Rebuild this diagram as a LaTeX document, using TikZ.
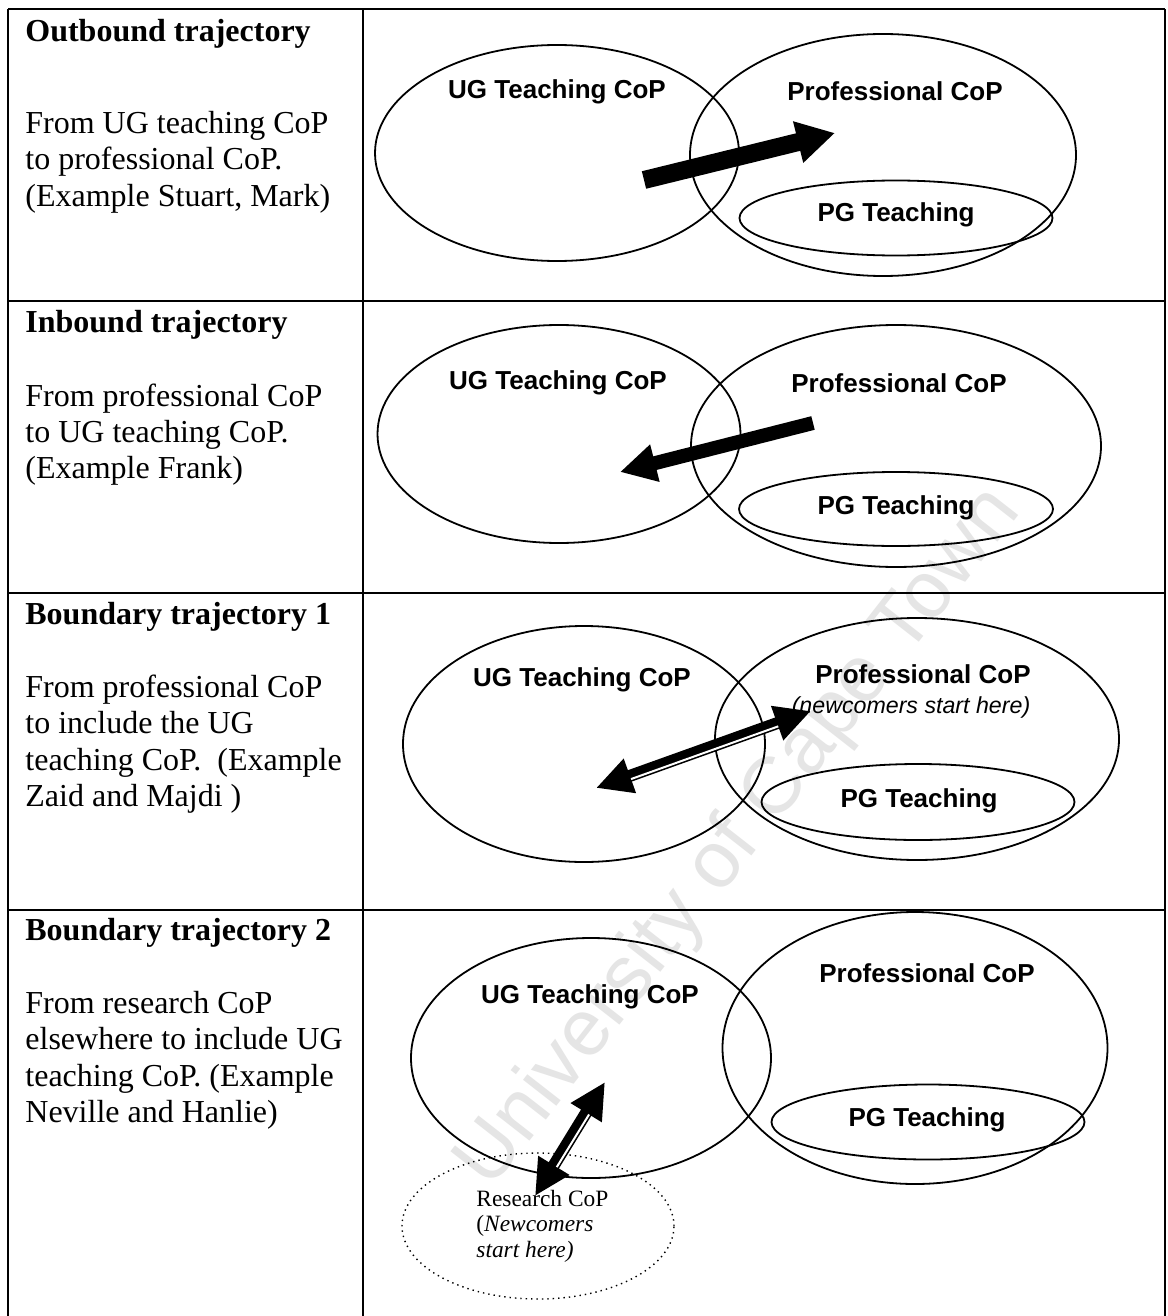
\documentclass[tikz,border=0pt]{standalone}
\usepackage{fontspec}
\setmainfont{Liberation Serif}
\setsansfont{Liberation Sans}
\usetikzlibrary{arrows.meta,calc,shapes.geometric}

\tikzset{
  set/.style={ellipse, draw, line width=0.9pt, inner sep=0pt},
  researchset/.style={ellipse, draw, dotted, line width=0.7pt, inner sep=0pt},
  lbl/.style={anchor=base, inner sep=0pt, font=\sffamily\bfseries\fontsize{13}{15}\selectfont},
  note/.style={anchor=base, inner sep=0pt, font=\sffamily\itshape\fontsize{11.6}{14}\selectfont},
  rowhead/.style={anchor=base west, inner sep=0pt, font=\bfseries\fontsize{16}{18}\selectfont},
  rowbody/.style={anchor=base west, inner sep=0pt, font=\fontsize{16}{18}\selectfont},
  smalltext/.style={anchor=base west, inner sep=0pt, font=\fontsize{11.7}{13}\selectfont},
  grid/.style={line width=0.9pt},
  bigarrow/.style={line width=9pt, -{Triangle[length=19pt,width=20pt]}},
  midarrow/.style={line width=7pt, -{Triangle[length=18pt,width=18pt]}},
  twoway/.style={line width=6pt, {Triangle[length=18pt,width=17pt]}-{Triangle[length=18pt,width=17pt]}},
  stripe/.style={white, line width=1pt, shorten <=18pt, shorten >=18pt},
}

\begin{document}
\begin{tikzpicture}[x=0.5pt, y=-0.5pt]
\useasboundingbox (0,0) rectangle (1167,1316);
\fill[white] (0,0) rectangle (1167,1316);

% faint watermark behind the table
\node[rotate=52, text=black!10, inner sep=0pt,
      font=\sffamily\fontsize{40}{40}\selectfont] (wm) at (740,838) {University of Cape Town};

% table rules
\draw[grid] (8,9) -- (1165,9);
\draw[grid] (8,301) -- (1165,301);
\draw[grid] (8,593) -- (1165,593);
\draw[grid] (8,910) -- (1165,910);
\draw[grid] (8,9) -- (8,1316);
\draw[grid] (363,9) -- (363,1316);
\draw[grid] (1165,9) -- (1165,1316);

% ---- left column texts
\node[rowhead] (r1h) at (25,42) {Outbound trajectory};
\node[rowbody] (r1a) at (25,134) {From UG teaching CoP};
\node[rowbody] (r1b) at (25,170) {to professional CoP.};
\node[rowbody] (r1c) at (25,206) {(Example Stuart, Mark)};

\node[rowhead] (r2h) at (25,332) {Inbound trajectory};
\node[rowbody] (r2a) at (25,406) {From professional CoP};
\node[rowbody] (r2b) at (25,442) {to UG teaching CoP.};
\node[rowbody] (r2c) at (25,478) {(Example Frank)};

\node[rowhead] (r3h) at (25,624) {Boundary trajectory 1};
\node[rowbody] (r3a) at (25,697) {From professional CoP};
\node[rowbody] (r3b) at (25,733) {to include the UG};
\node[rowbody] (r3c) at (25,770) {teaching CoP.\ \ (Example};
\node[rowbody] (r3d) at (25,806) {Zaid and Majdi )};

\node[rowhead] (r4h) at (25,940) {Boundary trajectory 2};
\node[rowbody] (r4a) at (25,1013) {From research CoP};
\node[rowbody] (r4b) at (25,1049) {elsewhere to include UG};
\node[rowbody] (r4c) at (25,1086) {teaching CoP. (Example};
\node[rowbody] (r4d) at (25,1122) {Neville and Hanlie)};

% ---- row 1: outbound
\node[set, minimum width=182pt, minimum height=108pt] (ug1) at (557,153) {};
\node[set, minimum width=193pt, minimum height=121pt] (pr1) at (883,155) {};
\node[set, minimum width=156.5pt, minimum height=37.5pt] (pg1) at (896,218) {};
\node[lbl] (ug1t) at (557,99) {UG Teaching CoP};
\node[lbl] (pr1t) at (895,101) {Professional CoP};
\node[lbl] (pg1t) at (896,222) {PG Teaching};
\coordinate (a1s) at (644,180);
\coordinate (a1e) at (835,133);
\draw[bigarrow] (a1s) -- (a1e);

% ---- row 2: inbound
\node[set, minimum width=181.5pt, minimum height=109pt] (ug2) at (559,434) {};
\node[set, minimum width=205pt, minimum height=121pt] (pr2) at (896,446) {};
\node[set, minimum width=157pt, minimum height=37pt] (pg2) at (896,509) {};
\node[lbl] (ug2t) at (558,389) {UG Teaching CoP};
\node[lbl] (pr2t) at (899,392) {Professional CoP};
\node[lbl] (pg2t) at (896,514) {PG Teaching};
\coordinate (a2s) at (813,423);
\coordinate (a2e) at (620,472);
\draw[midarrow] (a2s) -- (a2e);

% ---- row 3: boundary 1
\node[set, minimum width=181pt, minimum height=118pt] (ug3) at (584,744) {};
\node[set, minimum width=202pt, minimum height=121pt] (pr3) at (917,739) {};
\node[set, minimum width=156.5pt, minimum height=38pt] (pg3) at (918,802) {};
\node[lbl] (ug3t) at (582,686) {UG Teaching CoP};
\node[lbl] (pr3t) at (923,683) {Professional CoP};
\node[note] (pr3n) at (911,713) {(newcomers start here)};
\node[lbl] (pg3t) at (919,807) {PG Teaching};
\coordinate (a3s) at (596,788);
\coordinate (a3e) at (811,711);
\draw[twoway] (a3s) -- (a3e);
\draw[stripe] ($(a3s)!1.7pt!-90:(a3e)$) -- ($(a3e)!1.7pt!90:(a3s)$);

% ---- row 4: boundary 2
\node[set, minimum width=180pt, minimum height=120pt] (ug4) at (591,1058) {};
\node[set, minimum width=192.5pt, minimum height=136pt] (pr4) at (915,1048) {};
\node[set, minimum width=156.5pt, minimum height=37.5pt] (pg4) at (928,1122) {};
\node[researchset, minimum width=136pt, minimum height=73pt] (rs4) at (538,1226) {};
\node[lbl] (ug4t) at (590,1003) {UG Teaching CoP};
\node[lbl] (pr4t) at (927,982) {Professional CoP};
\node[lbl] (pg4t) at (927,1126) {PG Teaching};
\node[smalltext] (rs4a) at (476,1206) {Research CoP};
\node[smalltext] (rs4b) at (476,1231) {(\textit{Newcomers}};
\node[smalltext] (rs4c) at (476,1257) {\textit{start here)}};
\coordinate (a4s) at (535,1196);
\coordinate (a4e) at (605,1082);
\draw[twoway] (a4s) -- (a4e);
\draw[stripe] ($(a4s)!1.7pt!-90:(a4e)$) -- ($(a4e)!1.7pt!90:(a4s)$);
\end{tikzpicture}
\end{document}
